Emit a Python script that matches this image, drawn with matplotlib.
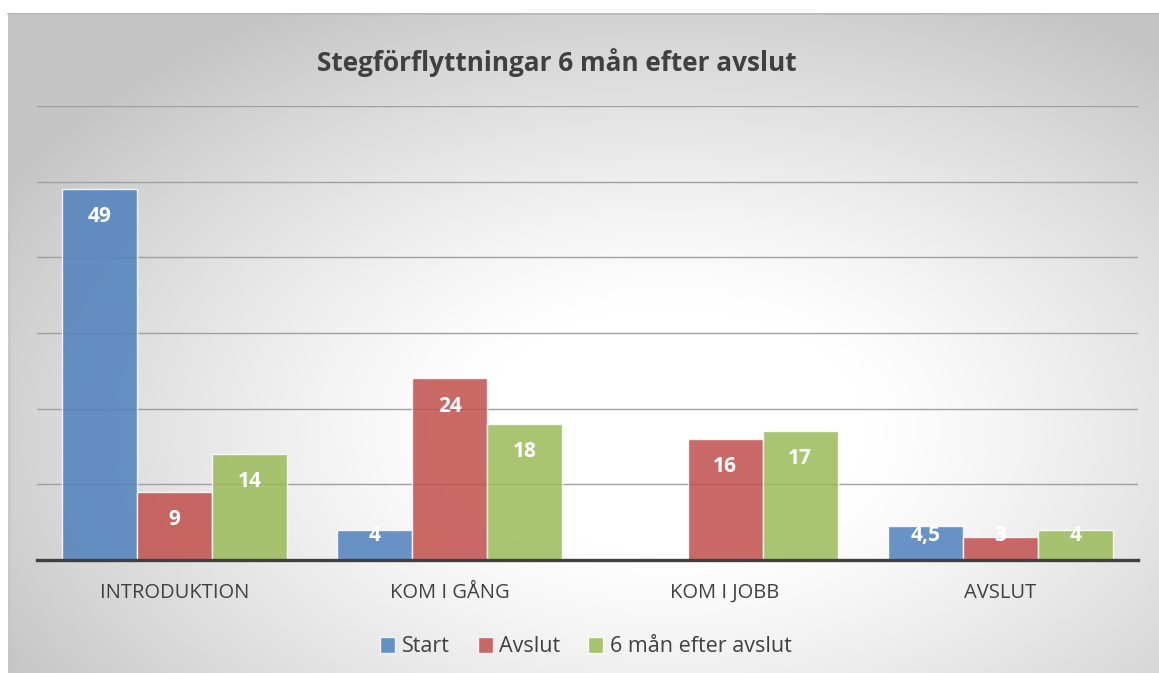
import numpy as np
import matplotlib
matplotlib.use("Agg")
import matplotlib.pyplot as plt

categories = ["INTRODUKTION", "KOM I GÅNG", "KOM I JOBB", "AVSLUT"]
series_names = ["Start", "Avslut", "6 mån efter avslut"]
start = [49, 4, np.nan, 4.5]
avslut = [9, 24, 16, 3]
efter6 = [14, 18, 17, 4]
title = "Stegförflyttningar 6 mån efter avslut"

colors = ["#4F81BD", "#C0504D", "#9BBB59"]
plt.rcParams['font.family'] = ['Open Sans', 'DejaVu Sans']

W, H = 1159, 673
fig = plt.figure(figsize=(W / 100, H / 100), dpi=100)

# background gradient
bg = fig.add_axes([0, 0, 1, 1], zorder=0)
yy, xx = np.mgrid[0:H, 0:W]
cx, cy, a, b = 670, 430, 700, 440
d = np.sqrt(((xx - cx) / a) ** 2 + ((yy - cy) / b) ** 2)
t = np.clip((d - 0.28) / 0.8, 0, 1.2)
val = 1.0 - 0.22 * t ** 1.2
val = np.clip(val, 0.77, 1)
img = np.dstack([val, val, val])
img[:13, :, :] = 1.0
img[:, :8, :] = 1.0
bg.imshow(img, extent=[0, W, H, 0], aspect='auto', interpolation='bilinear')
bg.plot([8, W], [13.5, 13.5], color="#b8b8b8", lw=1.2)
bg.plot([8.5, 8.5], [13, H], color="#c4c4c4", lw=1.0)
bg.set_xlim(0, W)
bg.set_ylim(H, 0)
bg.axis('off')

left, right, top, bottom = 37, 1138, 106, 560
ax = fig.add_axes([left / W, 1 - bottom / H, (right - left) / W, (bottom - top) / H], zorder=1)
ax.set_facecolor('none')

x = np.arange(len(categories))
bw = 0.2727
all_series = [start, avslut, efter6]
for i, (vals, c, name) in enumerate(zip(all_series, colors, series_names)):
    pos = x + (i - 1) * bw
    ax.bar(pos, vals, width=bw, color=c, alpha=0.85, edgecolor=(1, 1, 1, 0.6),
           linewidth=1.0, label=name, zorder=3)
    for p, v in zip(pos, vals):
        if np.isnan(v):
            continue
        ly = max(v - 3.65, 3.3)
        txt = f"{v:g}".replace(".", ",")
        ax.text(p, ly, txt, ha='center', va='center', color='white',
                fontsize=15, fontweight='bold', zorder=5)

ax.set_xlim(-0.5, len(categories) - 0.5)
ax.set_ylim(0, 60)
ax.set_yticks(np.arange(0, 61, 10))
ax.yaxis.grid(True, color="#a0a0a0", lw=1.0, zorder=1)
ax.set_axisbelow(True)
ax.tick_params(axis='y', left=False, labelleft=False)
ax.tick_params(axis='x', bottom=False, pad=13, labelsize=14.5, labelcolor="#404040")
ax.set_xticks(x)
ax.set_xticklabels(categories)
for s in ['top', 'right', 'left']:
    ax.spines[s].set_visible(False)
ax.spines['bottom'].set_color("#404040")
ax.spines['bottom'].set_linewidth(2.4)
ax.spines['bottom'].set_zorder(6)

fig.text(557 / W, 1 - 63 / H, title, ha='center', va='center', fontsize=18.8,
         fontweight='bold', color="#404040")

ax.legend(loc='center', bbox_to_anchor=((586 - left) / (right - left), (bottom - 647) / (bottom - top)),
          ncol=3, frameon=False, fontsize=15.5, handlelength=0.7, handleheight=0.7,
          handletextpad=0.3, columnspacing=1.3, labelcolor="#404040")

fig.savefig("out.png", dpi=100)
